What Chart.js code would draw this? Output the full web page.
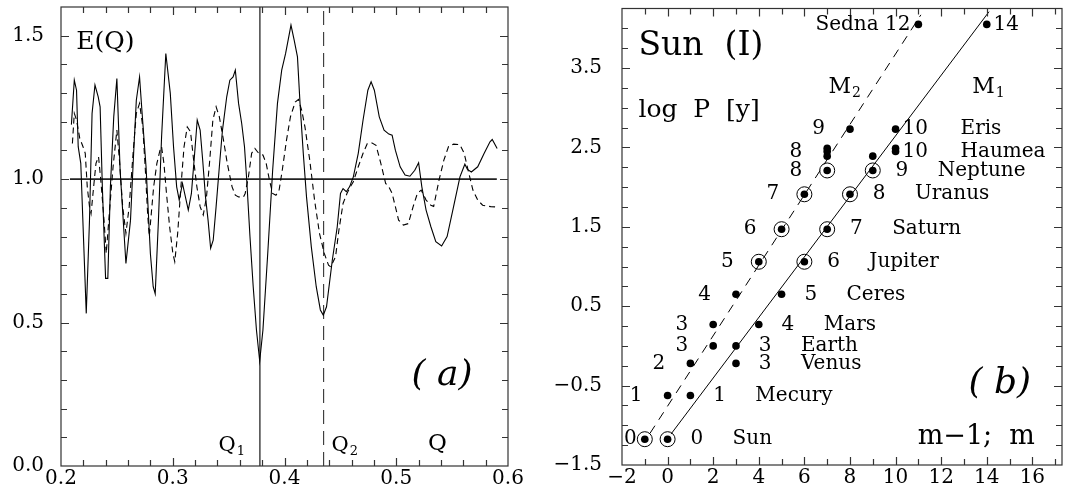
<!doctype html>
<html lang="en">
<head>
<meta charset="utf-8">
<title>E(Q) and Sun (I)</title>
<script src="https://cdn.jsdelivr.net/npm/chart.js"></script>
<style>
  body { margin: 0; background: #fff; }
  #wrap { position: relative; width: 1081px; height: 495px; }
  canvas { position: absolute; top: 0; }
  #chartA { left: 0; }
  #chartB { left: 540px; }
</style>
</head>
<body>
<div id="wrap">
  <canvas id="chartA" width="540" height="495"></canvas>
  <canvas id="chartB" width="541" height="495"></canvas>
</div>
<script>
// ---- panel (a): E(Q) ----
const qSolid = [0.2093,0.2119,0.2139,0.2154,0.2177,0.2226,0.2255,0.2278,0.2304,0.2333,0.2350,0.2370,0.2399,0.2419,0.2442,0.2472,0.2500,0.2529,0.2581,0.2622,0.2650,0.2674,0.2703,0.2726,0.2761,0.2800,0.2825,0.2843,0.2872,0.2900,0.2938,0.2978,0.3007,0.3035,0.3058,0.3087,0.3139,0.3167,0.3196,0.3219,0.3245,0.3268,0.3293,0.3316,0.3339,0.3362,0.3388,0.3417,0.3445,0.3483,0.3511,0.3540,0.3560,0.3589,0.3617,0.3642,0.3662,0.3691,0.3720,0.3749,0.3778,0.3807,0.3850,0.3894,0.3937,0.3975,0.4010,0.4058,0.4087,0.4116,0.4139,0.4168,0.4197,0.4240,0.4284,0.4321,0.4347,0.4376,0.4428,0.4472,0.4501,0.4524,0.4553,0.4582,0.4616,0.4660,0.4703,0.4746,0.4775,0.4804,0.4848,0.4891,0.4934,0.4963,0.4992,0.5035,0.5079,0.5122,0.5166,0.5200,0.5229,0.5267,0.5310,0.5354,0.5406,0.5455,0.5513,0.5570,0.5614,0.5637,0.5672,0.5729,0.5787,0.5839,0.5859,0.5903];
const eSolid = [1.19,1.345,1.31,1.113,1.055,0.532,0.857,1.229,1.328,1.287,1.252,0.973,0.654,0.654,0.973,1.217,1.351,1.031,0.706,0.857,1.09,1.275,1.356,1.229,1.043,0.74,0.625,0.60,0.857,1.147,1.438,1.299,1.113,0.973,0.927,0.985,0.892,0.950,1.09,1.206,1.171,1.066,0.938,0.857,0.759,0.787,0.904,1.043,1.171,1.287,1.345,1.356,1.38,1.264,1.194,1.113,0.997,0.80,0.625,0.474,0.366,0.474,0.741,1.031,1.264,1.38,1.438,1.537,1.484,1.426,1.264,1.09,0.938,0.764,0.625,0.544,0.526,0.555,0.718,0.834,0.950,0.967,0.956,0.973,1.008,1.09,1.206,1.31,1.339,1.31,1.217,1.171,1.157,1.153,1.101,1.043,1.014,1.01,1.031,1.057,0.973,0.892,0.834,0.782,0.767,0.80,0.904,1.008,1.052,1.034,1.025,1.043,1.09,1.13,1.138,1.107];

const qDashed = [0.2102,0.2119,0.2139,0.2168,0.2197,0.2217,0.2235,0.2255,0.2269,0.2292,0.2313,0.2336,0.2356,0.2385,0.2405,0.2437,0.2466,0.2500,0.2523,0.2552,0.2581,0.2610,0.2645,0.2674,0.2703,0.2732,0.2755,0.2775,0.2790,0.2829,0.2858,0.2886,0.2900,0.2921,0.2944,0.2972,0.3001,0.3018,0.3044,0.3073,0.3101,0.3130,0.3159,0.3187,0.3216,0.3245,0.3273,0.3302,0.3331,0.3359,0.3388,0.3417,0.3454,0.3488,0.3531,0.3560,0.3589,0.3632,0.3648,0.3677,0.3706,0.3735,0.3769,0.3807,0.3836,0.3865,0.3894,0.3923,0.3951,0.3980,0.4018,0.4053,0.4096,0.4125,0.4154,0.4183,0.4226,0.4269,0.4313,0.4356,0.4394,0.4414,0.4457,0.4486,0.4524,0.4559,0.4588,0.4616,0.4660,0.4703,0.4741,0.4784,0.4819,0.4862,0.4905,0.4934,0.4963,0.4992,0.5021,0.5064,0.5108,0.5151,0.5189,0.5223,0.5267,0.5310,0.5335,0.5383,0.5426,0.5469,0.5513,0.5570,0.5608,0.5643,0.5686,0.5729,0.5773,0.5845,0.5903];
const eDashed = [1.124,1.229,1.206,1.142,1.113,1.09,0.973,0.904,0.88,0.973,1.055,1.078,0.997,0.857,0.741,0.904,1.043,1.171,1.066,0.904,0.811,0.904,1.09,1.229,1.264,1.182,1.031,0.88,0.80,0.973,1.055,1.101,1.113,1.055,0.950,0.834,0.741,0.712,0.811,0.973,1.113,1.182,1.165,1.066,0.973,0.904,0.875,0.938,1.066,1.206,1.252,1.217,1.136,1.055,0.973,0.944,0.938,0.937,0.95,1.008,1.09,1.107,1.09,1.084,1.055,0.997,0.95,0.944,0.96,1.031,1.136,1.217,1.269,1.278,1.24,1.182,1.066,0.927,0.811,0.741,0.70,0.694,0.73,0.82,0.915,0.95,0.973,0.991,1.043,1.09,1.124,1.126,1.118,1.055,0.985,0.973,0.95,0.904,0.857,0.840,0.845,0.904,0.95,0.962,0.927,0.909,0.905,0.997,1.066,1.115,1.122,1.12,1.09,1.031,0.962,0.927,0.909,0.904,0.903];

const q1 = 0.378;
const q2 = 0.435;
const unitLineX = [0.208, 0.590];
const unitLineY = [1.0, 1.0];
const aXTicks = [0.2, 0.3, 0.4, 0.5, 0.6];
const aYTicks = [0.0, 0.5, 1.0, 1.5];

// ---- panel (b): Sun (I) ----
const bodies = ['Sun','Mecury','Venus','Earth','Mars','Ceres','Jupiter','Saturn','Uranus','Neptune','Pluto','Haumea','Makemake','Eris','Sedna'];
const logP = [-1.175,-0.625,-0.22,0.0,0.27,0.65,1.06,1.47,1.91,2.21,2.39,2.45,2.49,2.73,4.05];
const mSolid = [0,1,3,3,4,5,6,7,8,9,9,10,10,10,14];
const mDashed = [0,1,2,3,3,4,5,6,7,8,8,8,8,9,12];   // drawn at m-1
const ringed = [true,false,false,false,false,false,true,true,true,true,false,false,false,false,false];
const solidTags = ['0','1','3','3','4','5','6','7','8','9','','10','','10','14'];
const dashedTags = ['0','1','2','3','3','4','5','6','7','8','','8','','9','Sedna 12'];
const nameTags = ['Sun','Mecury','Venus','Earth','Mars','Ceres','Jupiter','Saturn','Uranus','Neptune','','Haumea','','Eris',''];
const m1LineX = [0.15, 14.1];
const m1LineY = [-1.11, 4.21];
const m2LineX = [-0.77, 11.11];
const m2LineY = [-1.10, 4.17];
const bXTicks = [-2, 0, 2, 4, 6, 8, 10, 12, 14, 16];
const bYTicks = [-1.5, -0.5, 0.5, 1.5, 2.5, 3.5];

const serif = "'DejaVu Serif', serif";
Chart.defaults.font.family = serif;
Chart.defaults.color = '#000';

const pts = (xs, ys) => xs.map((v, i) => ({ x: v, y: ys[i] }));
const signed = (v, d) => (v < 0 ? '\u2212' : '') + Math.abs(v).toFixed(d);

function drawText(ctx, s, px, py, size, o = {}) {
  ctx.font = (o.italic ? 'italic ' : '') + size + 'px ' + serif;
  ctx.textAlign = o.align || 'left';
  ctx.textBaseline = 'middle';
  ctx.fillStyle = '#000';
  ctx.fillText(s, px, py);
  if (o.sub) {
    const w = ctx.measureText(s).width;
    ctx.font = Math.round(size * 0.62) + 'px ' + serif;
    ctx.textAlign = 'left';
    ctx.fillText(o.sub, px + w + 1, py + size * 0.3);
  }
}

// frame with inward ticks on all four sides
function frameTicks(cfg) {
  const steps = (a, b, s) => {
    const out = [];
    const n = Math.round((b - a) / s);
    for (let i = 0; i <= n; i++) out.push(a + i * s);
    return out;
  };
  return {
    id: 'frameTicks',
    afterDatasetsDraw(chart) {
      const { ctx, chartArea: a, scales: { x, y } } = chart;
      ctx.save();
      ctx.strokeStyle = '#333';
      ctx.lineWidth = 1.2;
      ctx.beginPath();
      for (const v of steps(cfg.x[0], cfg.x[1], cfg.x[2])) {
        const px = Math.round(x.getPixelForValue(v)) + 0.5;
        if (px <= a.left + 1 || px >= a.right - 1) continue;
        const len = cfg.xMajor.some(t => Math.abs(t - v) < 1e-6) ? 8 : 6;
        ctx.moveTo(px, a.bottom); ctx.lineTo(px, a.bottom - len);
        ctx.moveTo(px, a.top); ctx.lineTo(px, a.top + len);
      }
      for (const v of steps(cfg.y[0], cfg.y[1], cfg.y[2])) {
        const py = Math.round(y.getPixelForValue(v)) + 0.5;
        if (py <= a.top + 1 || py >= a.bottom - 1) continue;
        const len = cfg.yMajor.some(t => Math.abs(t - v) < 1e-6) ? 8 : 6;
        ctx.moveTo(a.left, py); ctx.lineTo(a.left + len, py);
        ctx.moveTo(a.right, py); ctx.lineTo(a.right - len, py);
      }
      ctx.stroke();
      ctx.strokeRect(a.left, a.top, a.right - a.left, a.bottom - a.top);
      ctx.restore();
    }
  };
}

function axisOpts(min, max, ticks, fmt, fit, pad) {
  return {
    type: 'linear', min, max,
    grid: { display: false, drawTicks: false },
    border: { display: false },
    afterBuildTicks: s => { s.ticks = ticks.map(v => ({ value: v })); },
    ticks: { font: { size: 20 }, color: '#000', padding: pad, autoSkip: false, maxRotation: 0, callback: v => fmt(v) },
    afterFit: fit
  };
}

// ---------- chart (a) ----------
const notesA = {
  id: 'notesA',
  afterDatasetsDraw(chart) {
    const { ctx, scales: { x, y } } = chart;
    ctx.save();
    drawText(ctx, 'E(Q)', x.getPixelForValue(0.2137), y.getPixelForValue(1.477), 25);
    drawText(ctx, '( a)', x.getPixelForValue(0.5136), y.getPixelForValue(0.315), 36, { italic: true });
    drawText(ctx, 'Q', x.getPixelForValue(0.3409), y.getPixelForValue(0.072), 21, { sub: '1' });
    drawText(ctx, 'Q', x.getPixelForValue(0.4421), y.getPixelForValue(0.072), 21, { sub: '2' });
    drawText(ctx, 'Q', x.getPixelForValue(0.5285), y.getPixelForValue(0.078), 23);
    ctx.restore();
  }
};

new Chart(document.getElementById('chartA'), {
  type: 'line',
  data: {
    datasets: [
      { data: pts(qSolid, eSolid), borderColor: '#000', borderWidth: 1.1 },
      { data: pts(qDashed, eDashed), borderColor: '#000', borderWidth: 1.1, borderDash: [6, 4] },
      { data: pts(unitLineX, unitLineY), borderColor: '#222', borderWidth: 1.8 },
      { data: pts([q1, q1], [0, 1.6]), borderColor: '#000', borderWidth: 1.1 },
      { data: pts([q2, q2], [0, 1.6]), borderColor: '#333', borderWidth: 1.1, borderDash: [14, 7] }
    ]
  },
  options: {
    responsive: false, animation: false, events: [],
    elements: { point: { radius: 0 }, line: { tension: 0 } },
    layout: { padding: { top: 7, right: 32, left: 0, bottom: 0 } },
    plugins: { legend: { display: false }, tooltip: { enabled: false } },
    scales: {
      x: axisOpts(0.2, 0.6, aXTicks, v => v.toFixed(1), s => { s.height = 29; s.paddingLeft = 0; s.paddingRight = 0; }, 1),
      y: axisOpts(0, 1.6, aYTicks, v => v.toFixed(1), s => { s.width = 61; s.paddingTop = 0; s.paddingBottom = 0; }, 17)
    }
  },
  plugins: [frameTicks({ x: [0.2, 0.6, 0.02], y: [0, 1.6, 0.1], xMajor: aXTicks, yMajor: aYTicks }), notesA]
});

// ---------- chart (b) ----------
const solidPts = pts(mSolid, logP);
const dashedPts = pts(mDashed.map(m => m - 1), logP);

const notesB = {
  id: 'notesB',
  afterDatasetsDraw(chart) {
    const { ctx, scales: { x, y } } = chart;
    const X = v => x.getPixelForValue(v), Y = v => y.getPixelForValue(v);
    ctx.save();
    bodies.forEach((b, i) => {
      const py = Y(logP[i]);
      if (solidTags[i]) {
        const off = solidTags[i].length > 1 ? 0.3 : 1.0;
        drawText(ctx, solidTags[i], X(mSolid[i] + off), py, 20);
      }
      if (dashedTags[i]) {
        const xd = mDashed[i] - 1;
        const off = (xd - 1.1 < x.min || dashedTags[i].length > 2) ? 0.35 : 1.1;
        drawText(ctx, dashedTags[i], X(xd - off), py, 20, { align: 'right' });
      }
      if (nameTags[i]) drawText(ctx, nameTags[i], X(mSolid[i] + 2.85), py, 20);
    });
    drawText(ctx, 'Sun  (I)', X(-1.28), Y(3.77), 33);
    drawText(ctx, 'log  P  [y]', X(-1.28), Y(2.97), 25);
    drawText(ctx, 'M', X(7.06), Y(3.26), 22, { sub: '2' });
    drawText(ctx, 'M', X(13.36), Y(3.26), 22, { sub: '1' });
    drawText(ctx, '( b)', X(13.2), Y(-0.47), 36, { italic: true });
    drawText(ctx, 'm\u22121;  m', X(10.97), Y(-1.15), 27);
    ctx.restore();
  }
};

new Chart(document.getElementById('chartB'), {
  type: 'scatter',
  data: {
    datasets: [
      { data: pts(m1LineX, m1LineY), showLine: true, borderColor: '#000', borderWidth: 1, pointRadius: 0 },
      { data: pts(m2LineX, m2LineY), showLine: true, borderColor: '#000', borderWidth: 1, borderDash: [9, 7], pointRadius: 0 },
      { data: solidPts.filter((p, i) => ringed[i]).concat(dashedPts.filter((p, i) => ringed[i])),
        pointRadius: 7.5, pointBackgroundColor: 'rgba(0,0,0,0)', pointBorderColor: '#000', pointBorderWidth: 1 },
      { data: solidPts.concat(dashedPts), pointRadius: 3.8, pointBackgroundColor: '#000', pointBorderWidth: 0 }
    ]
  },
  options: {
    responsive: false, animation: false, events: [],
    layout: { padding: { top: 7, right: 19, left: 0, bottom: 0 } },
    plugins: { legend: { display: false }, tooltip: { enabled: false } },
    scales: {
      x: axisOpts(-2, 17.3, bXTicks, v => signed(v, 0), s => { s.height = 30; s.paddingLeft = 0; s.paddingRight = 0; }, 1),
      y: axisOpts(-1.5, 4.25, bYTicks, v => signed(v, 1), s => { s.width = 82; s.paddingTop = 0; s.paddingBottom = 0; }, 20)
    }
  },
  plugins: [frameTicks({ x: [-2, 17, 1], y: [-1.5, 4.25, 0.25], xMajor: bXTicks, yMajor: bYTicks }), notesB]
});
</script>
</body>
</html>
